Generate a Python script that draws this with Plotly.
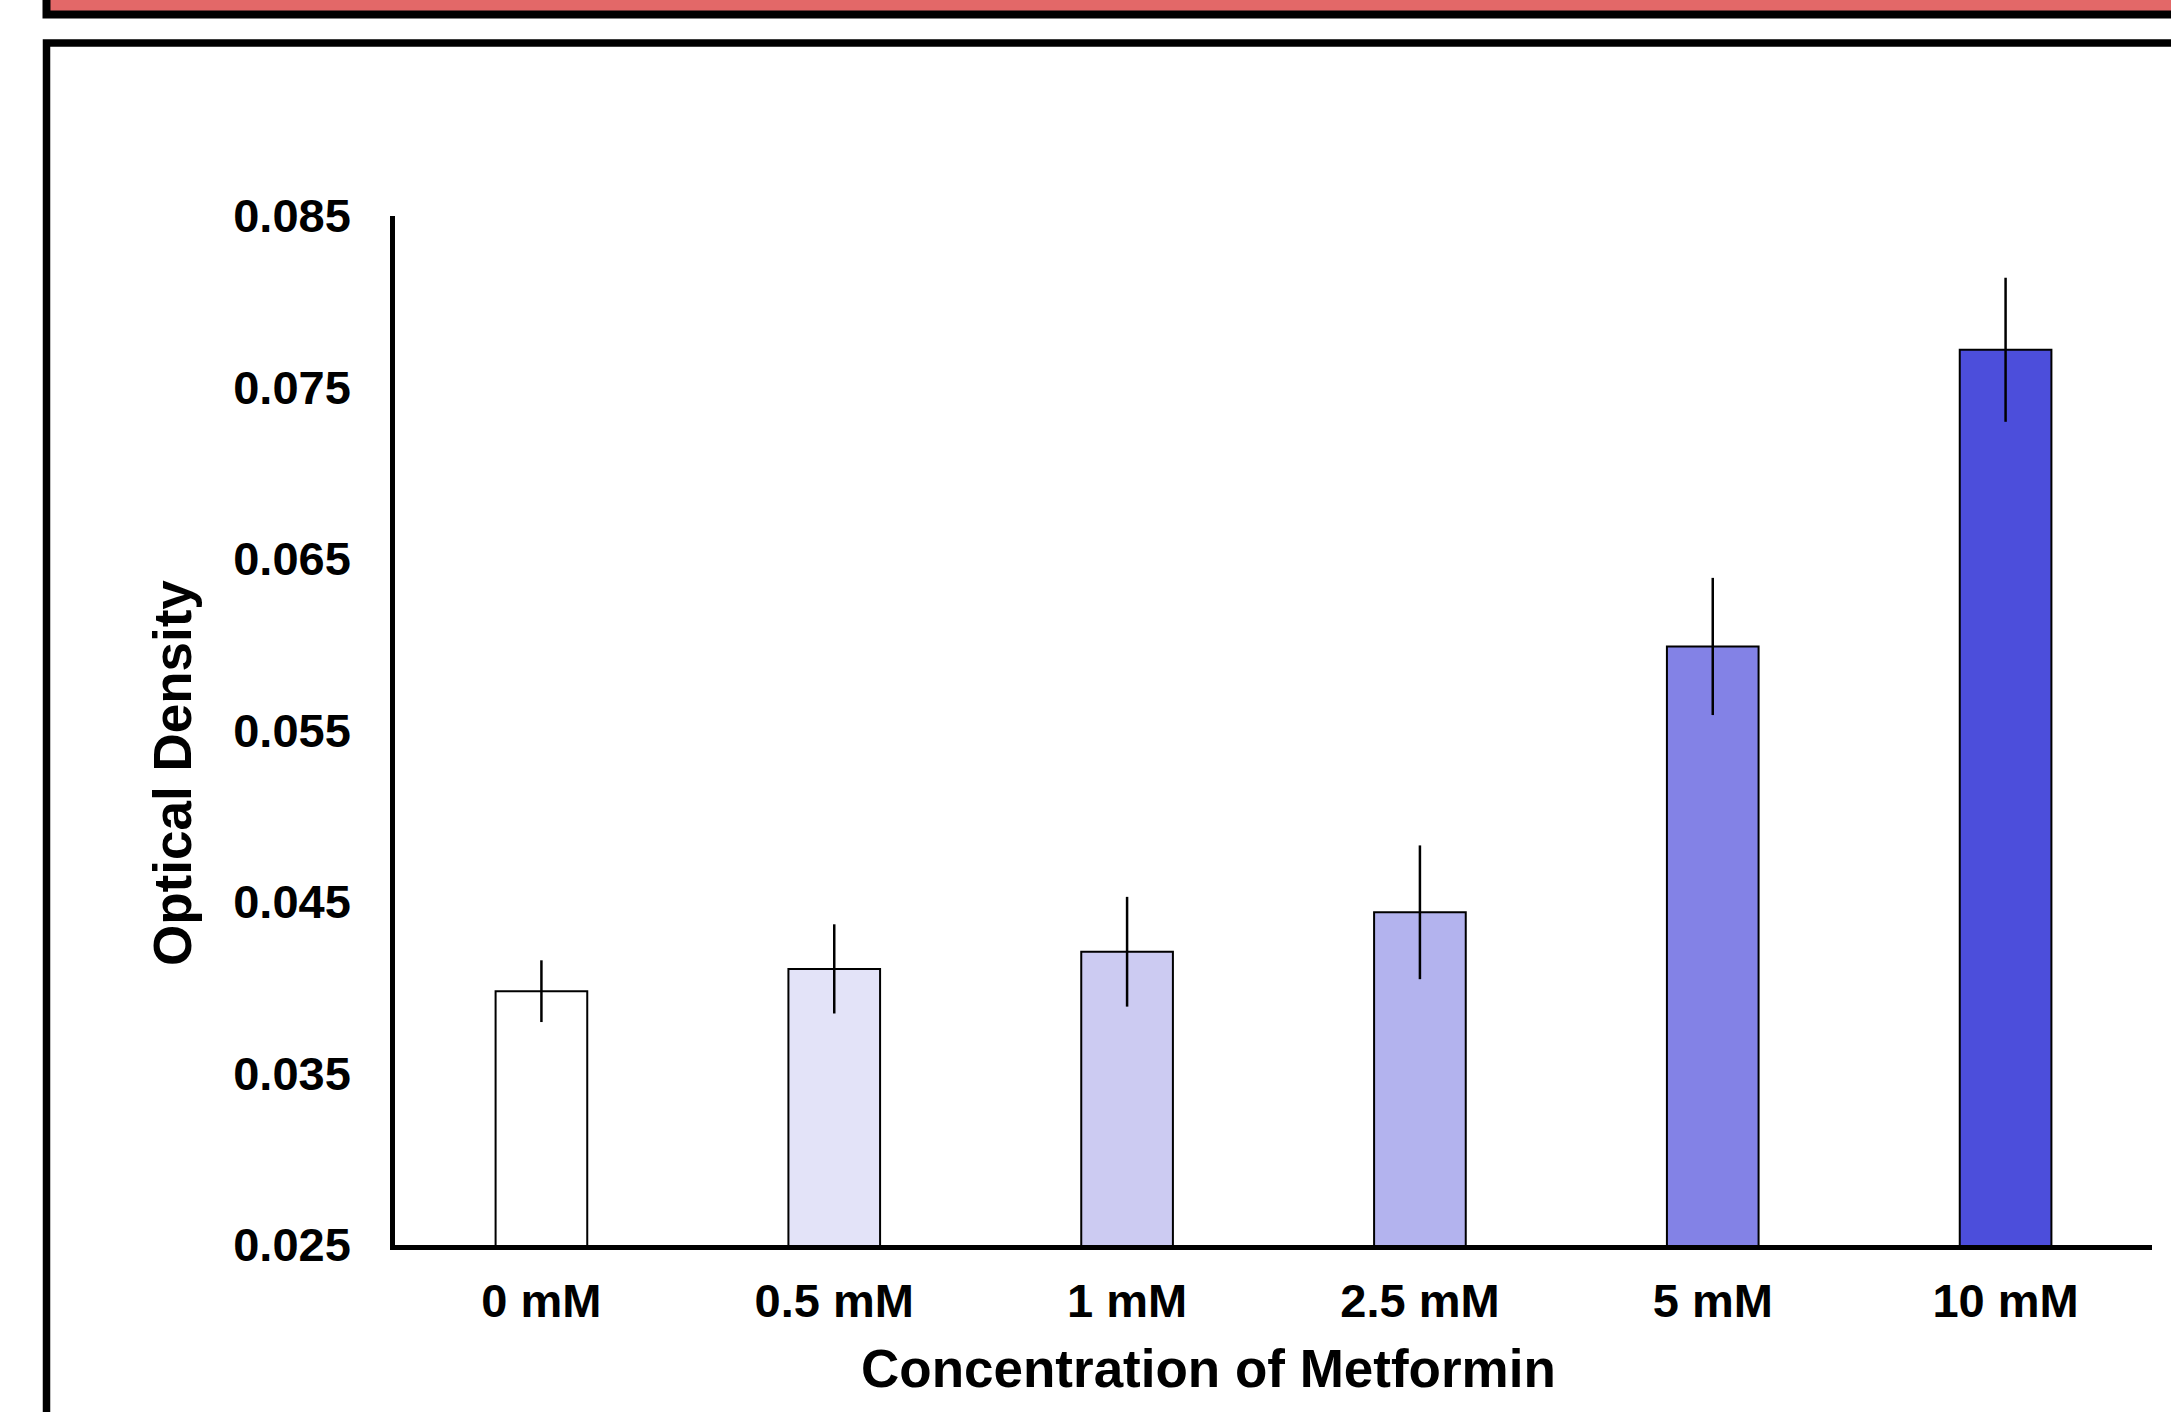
import plotly.graph_objects as go

categories = ["0 mM", "0.5 mM", "1 mM", "2.5 mM", "5 mM", "10 mM"]
values = [0.0398, 0.0411, 0.0421, 0.0444, 0.0599, 0.0772]
errors = [0.0018, 0.0026, 0.0032, 0.0039, 0.0040, 0.0042]
colors = ["#FFFFFF", "#E3E3F8", "#CCCBF2", "#B3B3EE", "#8382E6", "#4C4EDB"]
y_ticks = [0.025, 0.035, 0.045, 0.055, 0.065, 0.075, 0.085]

W, H = 2171, 1412
L, R, T, B = 395, 19, 216, 167
PW, PH = W - L - R, H - T - B

def px(x):
    return (x - L) / PW

def py(y):
    return (H - B - y) / PH

FONT = "Liberation Sans, Arial, sans-serif"

fig = go.Figure()
fig.add_trace(go.Bar(
    x=categories, y=values,
    marker=dict(color=colors, line=dict(color="black", width=2)),
    error_y=dict(type="data", array=errors, color="black", thickness=2.5, width=0),
    width=0.313,
))

fig.update_layout(
    width=W, height=H,
    margin=dict(l=L, r=R, t=T, b=B),
    paper_bgcolor="white", plot_bgcolor="white",
    showlegend=False,
    xaxis=dict(
        range=[-0.5, 5.5], showline=True, linecolor="black", linewidth=5,
        showgrid=False, ticks="", ticklabelstandoff=11,
        tickfont=dict(family=FONT, size=47, color="black", weight="bold"),
    ),
    yaxis=dict(
        range=[0.025, 0.085], tickvals=y_ticks, tickformat=".3f",
        showline=True, linecolor="black", linewidth=4.5, showgrid=False,
        zeroline=False, ticks="", ticklabelstandoff=30,
        tickfont=dict(family=FONT, size=47, color="black", weight="bold"),
    ),
    annotations=[
        dict(text="Concentration of Metformin", xref="paper", yref="paper",
             x=px(1208), y=py(1368), xanchor="center", yanchor="middle",
             showarrow=False,
             font=dict(family=FONT, size=53, color="black", weight="bold")),
        dict(text="Optical Density", xref="paper", yref="paper",
             x=px(172), y=py(773), xanchor="center", yanchor="middle",
             textangle=-90, showarrow=False,
             font=dict(family=FONT, size=53, color="black", weight="bold")),
    ],
    shapes=[
        dict(type="rect", xref="paper", yref="paper", layer="below",
             x0=px(46.5), x1=px(2400), y0=py(-100), y1=py(14.5),
             fillcolor="#E36868", line=dict(color="black", width=8)),
        dict(type="rect", xref="paper", yref="paper", layer="below",
             x0=px(46.5), x1=px(2400), y0=py(43), y1=py(1700),
             fillcolor="rgba(0,0,0,0)", line=dict(color="black", width=7.5)),
    ],
)

fig.write_html(
    "out.html",
    config={"displayModeBar": False},
    post_script="document.body.style.margin='0';document.body.style.overflow='hidden';",
)
